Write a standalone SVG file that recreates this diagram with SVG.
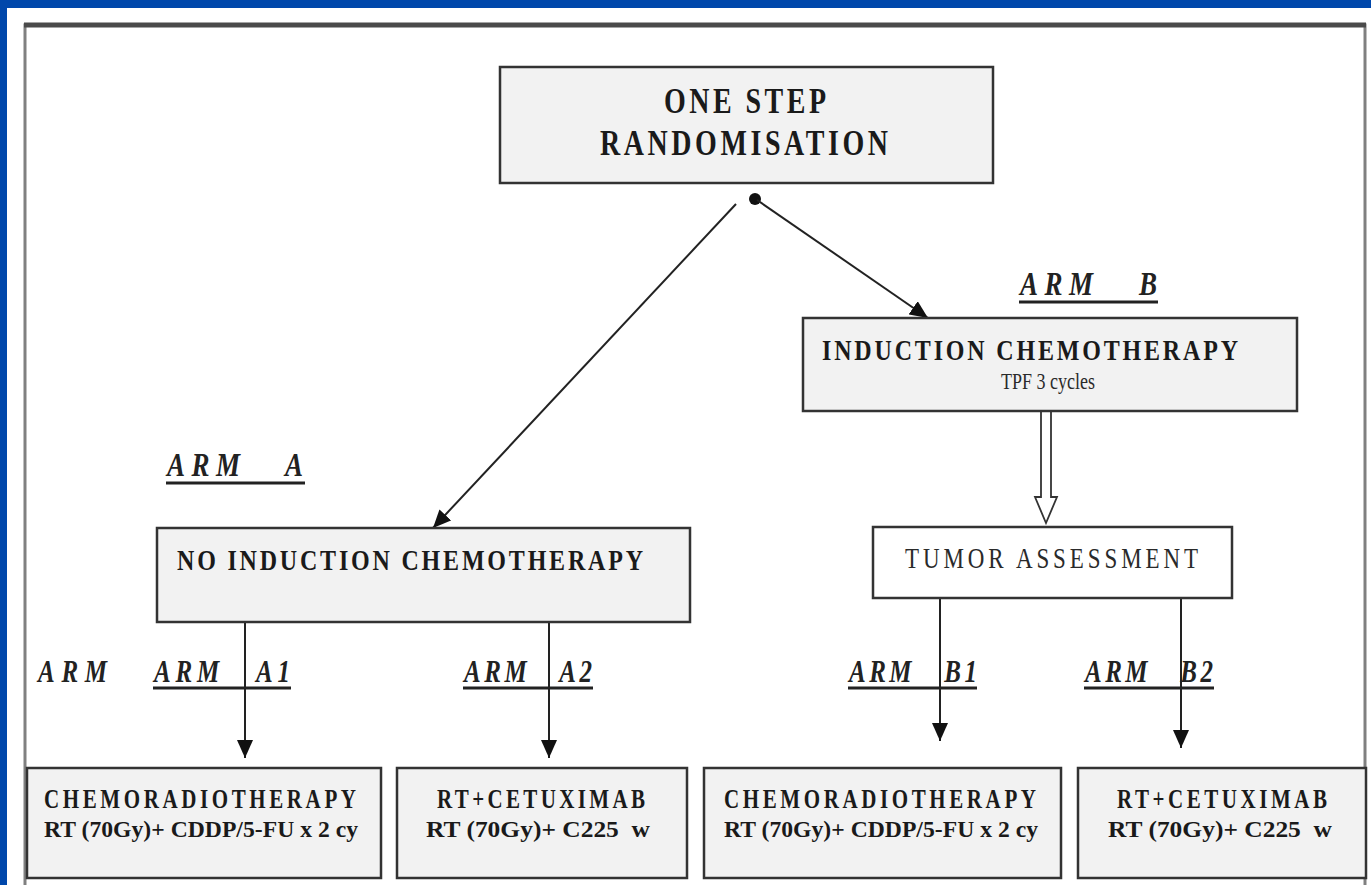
<svg xmlns="http://www.w3.org/2000/svg" width="1371" height="885" viewBox="0 0 1371 885">
<defs>
<style>
.box{fill:#f2f2f2;stroke:#333;stroke-width:2.5}
.wbox{fill:#fff;stroke:#333;stroke-width:2.5}
.t{font-family:"Liberation Serif","Times New Roman",serif;font-weight:bold;fill:#1a1a1a;white-space:pre}
.r{font-family:"Liberation Serif","Times New Roman",serif;fill:#2a2a2a}
.arm{font-family:"Liberation Serif","Times New Roman",serif;font-weight:bold;font-style:italic;fill:#222;white-space:pre}
.ul{stroke:#222;stroke-width:3}
.ln{stroke:#222;stroke-width:2;fill:none}
</style>
<marker id="ahb" viewBox="0 0 10 10" refX="10" refY="5" markerWidth="18" markerHeight="16" markerUnits="userSpaceOnUse" orient="auto" preserveAspectRatio="none">
<path d="M0,0 L10,5 L0,10 z" fill="#111"/>
</marker>
</defs>
<rect x="0" y="0" width="1371" height="885" fill="#0047ab"/>
<rect x="7" y="8" width="1364" height="877" fill="#fff"/>
<g id="frame">
<rect x="25" y="25" width="1340" height="880" fill="none" stroke="#808080" stroke-width="3"/>
<line x1="24" y1="25" x2="1366" y2="25" stroke="#4a4a4a" stroke-width="5"/>
</g>
<g id="connectors">
<line class="ln" x1="736" y1="204" x2="433" y2="528" marker-end="url(#ahb)"/>
<circle cx="755" cy="199" r="6" fill="#111"/>
<line class="ln" x1="757" y1="200" x2="928" y2="318" marker-end="url(#ahb)"/>
<path d="M1041,411 V497 H1035 L1046,523 L1057,497 H1051 V411" fill="#fff" stroke="#333" stroke-width="1.8"/>
<line class="ln" x1="245" y1="622" x2="245" y2="758" marker-end="url(#ahb)"/>
<line class="ln" x1="549" y1="622" x2="549" y2="758" marker-end="url(#ahb)"/>
<line class="ln" x1="940" y1="598" x2="940" y2="741" marker-end="url(#ahb)"/>
<line class="ln" x1="1181" y1="598" x2="1181" y2="748" marker-end="url(#ahb)"/>
</g>
<g id="randomisation">
<rect class="box" x="500" y="67" width="493" height="116"/>
<text class="t" transform="translate(664,113) scale(1,1.3)" font-size="28" textLength="162" lengthAdjust="spacing">ONE STEP</text>
<text class="t" transform="translate(600,155) scale(1,1.3)" font-size="28" textLength="288" lengthAdjust="spacing">RANDOMISATION</text>
</g>
<g id="armB-label">
<text class="arm" transform="translate(1020,295) scale(1,1.25)" font-size="27" textLength="137" lengthAdjust="spacing">ARM   B</text>
<line class="ul" x1="1019" y1="302" x2="1158" y2="302"/>
</g>
<g id="induction">
<rect class="box" x="803" y="318" width="494" height="93"/>
<text class="t" transform="translate(822,360) scale(1,1.25)" font-size="24" textLength="416" lengthAdjust="spacing">INDUCTION CHEMOTHERAPY</text>
<text class="r" transform="translate(1048,389) scale(1,1.25)" font-size="18" text-anchor="middle">TPF 3 cycles</text>
</g>
<g id="tumor">
<rect class="wbox" x="873" y="527" width="359" height="71"/>
<text class="r" transform="translate(905,568) scale(1,1.3)" font-size="23" textLength="293" lengthAdjust="spacing">TUMOR ASSESSMENT</text>
</g>
<g id="armA-label">
<text class="arm" transform="translate(167,476) scale(1,1.25)" font-size="27" textLength="136" lengthAdjust="spacing">ARM   A</text>
<line class="ul" x1="166" y1="483" x2="305" y2="483"/>
</g>
<g id="noinduction">
<rect class="box" x="157" y="528" width="533" height="94"/>
<text class="t" transform="translate(177,570) scale(1,1.25)" font-size="24" textLength="466" lengthAdjust="spacing">NO INDUCTION CHEMOTHERAPY</text>
</g>
<g id="arm-labels">
<text class="arm" transform="translate(38,682) scale(1,1.25)" font-size="25" textLength="69" lengthAdjust="spacing">ARM</text>
<text class="arm" transform="translate(154,682) scale(1,1.25)" font-size="25" textLength="136" lengthAdjust="spacing">ARM   A1</text>
<line class="ul" x1="153" y1="688" x2="291" y2="688"/>
<text class="arm" transform="translate(464,682) scale(1,1.25)" font-size="25" textLength="128" lengthAdjust="spacing">ARM   A2</text>
<line class="ul" x1="463" y1="688" x2="593" y2="688"/>
<text class="arm" transform="translate(849,682) scale(1,1.25)" font-size="25" textLength="128" lengthAdjust="spacing">ARM   B1</text>
<line class="ul" x1="848" y1="688" x2="977" y2="688"/>
<text class="arm" transform="translate(1085,682) scale(1,1.25)" font-size="25" textLength="128" lengthAdjust="spacing">ARM   B2</text>
<line class="ul" x1="1084" y1="688" x2="1214" y2="688"/>
</g>
<g id="a1-box">
<rect class="box" x="27" y="768" width="354" height="110"/>
<text class="t" transform="translate(44,808) scale(1,1.25)" font-size="21" textLength="312" lengthAdjust="spacing">CHEMORADIOTHERAPY</text>
<text class="t" transform="translate(44,837) scale(1,1.25)" font-size="19" textLength="314" lengthAdjust="spacingAndGlyphs">RT (70Gy)+ CDDP/5-FU x 2 cy</text>
</g>
<g id="a2-box">
<rect class="box" x="397" y="768" width="290" height="110"/>
<text class="t" transform="translate(437,808) scale(1,1.25)" font-size="21" textLength="208" lengthAdjust="spacing">RT+CETUXIMAB</text>
<text class="t" transform="translate(426,837) scale(1,1.25)" font-size="19" textLength="224" lengthAdjust="spacingAndGlyphs">RT (70Gy)+ C225  w</text>
</g>
<g id="b1-box">
<rect class="box" x="704" y="768" width="357" height="110"/>
<text class="t" transform="translate(724,808) scale(1,1.25)" font-size="21" textLength="312" lengthAdjust="spacing">CHEMORADIOTHERAPY</text>
<text class="t" transform="translate(724,837) scale(1,1.25)" font-size="19" textLength="314" lengthAdjust="spacingAndGlyphs">RT (70Gy)+ CDDP/5-FU x 2 cy</text>
</g>
<g id="b2-box">
<rect class="box" x="1078" y="768" width="288" height="110"/>
<text class="t" transform="translate(1117,808) scale(1,1.25)" font-size="21" textLength="210" lengthAdjust="spacing">RT+CETUXIMAB</text>
<text class="t" transform="translate(1108,837) scale(1,1.25)" font-size="19" textLength="224" lengthAdjust="spacingAndGlyphs">RT (70Gy)+ C225  w</text>
</g>
</svg>
